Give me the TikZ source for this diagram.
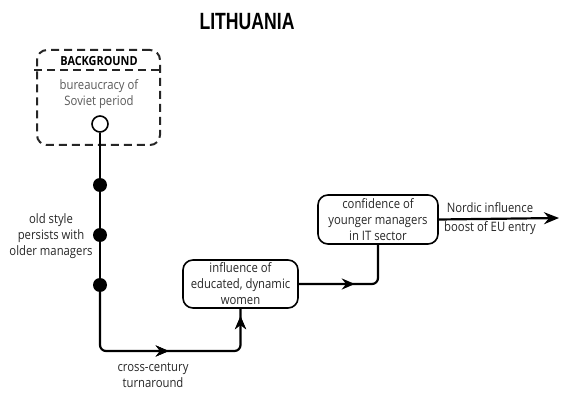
\documentclass[tikz,border=0pt]{standalone}
\usepackage{fontspec}
\setmainfont{Open Sans}[FakeStretch=0.87]
\newfontfamily\titlefont{Liberation Sans}
\usetikzlibrary{decorations.markings,arrows.meta}
\begin{document}
\begin{tikzpicture}[x=1pt,y=-1pt,
  txt/.style={font=\fontsize{13}{16}\selectfont, align=center, text=black!85, inner sep=0pt},
  stagebox/.style={txt, draw=black, line width=1.6pt, rounded corners=10pt},
  flow/.style={line width=2.2pt, rounded corners=6pt},
  tipmark/.style={postaction={decorate}, decoration={markings,
      mark=at position #1 with {\arrow{Stealth[length=13pt,width=11pt]}}}},
  dot/.style={circle, fill=black, inner sep=0pt, minimum size=14pt},
  opendot/.style={circle, draw=black, fill=white, line width=1.6pt, inner sep=0pt, minimum size=16pt},
  dashbox/.style={draw=black!85, line width=2pt, dash pattern=on 8pt off 5pt, rounded corners=10pt},
]
\useasboundingbox (0,0) rectangle (563,396);

% title
\node[inner sep=0pt] (title) at (247,22)
  {\scalebox{0.75}[1]{\titlefont\bfseries\fontsize{23.5}{26}\selectfont LITHUANIA}};

% background frame with its header
\node[dashbox, minimum width=123pt, minimum height=95pt, inner sep=0pt] (bgbox) at (98.5,97.5) {};
\coordinate (hdl) at (34,70);
\coordinate (hdr) at (160,70);
\draw[dashbox, rounded corners=0pt] (hdl) -- (hdr);
\node[txt, text=black, font=\fontsize{12.5}{16}\selectfont\bfseries] (bghead) at (99,61) {BACKGROUND};
\node[txt, text=black!65] (bgtext) at (99,94) {bureaucracy of\\Soviet period};
\node[opendot] (start) at (100,124) {};

% milestones on the old track
\node[dot] (d1) at (100,185) {};
\node[dot] (d2) at (100,235) {};
\node[dot] (d3) at (100,285) {};
\node[txt] (oldtxt) at (51,236) {old style\\persists with\\older managers};

% stages
\node[stagebox, minimum width=115pt, minimum height=48pt] (women) at (240.5,284)
  {influence of\\educated, dynamic\\women};
\node[stagebox, minimum width=120pt, minimum height=49pt] (conf) at (378,219.5)
  {confidence of\\younger managers\\in IT sector};
\coordinate (out) at (559,218);

% connectors
\draw[flow] (start) -- (d1) -- (d2) -- (d3);
\coordinate (turn) at (100,351);
\draw[flow, tipmark=125pt, tipmark=229pt] (d3) -- (turn) -| (women.south);
\node[txt] (turntxt) at (153,375) {cross-century\\turnaround};
\draw[flow, tipmark=56pt] (women.east) -| (conf.south);
\draw[line width=2.2pt, -{Stealth[length=15pt,width=12pt]}] (conf.east) -- (out);
\node[txt] (nordic) at (490,208) {Nordic influence};
\node[txt] (eu) at (490,228) {boost of EU entry};
\end{tikzpicture}
\end{document}
